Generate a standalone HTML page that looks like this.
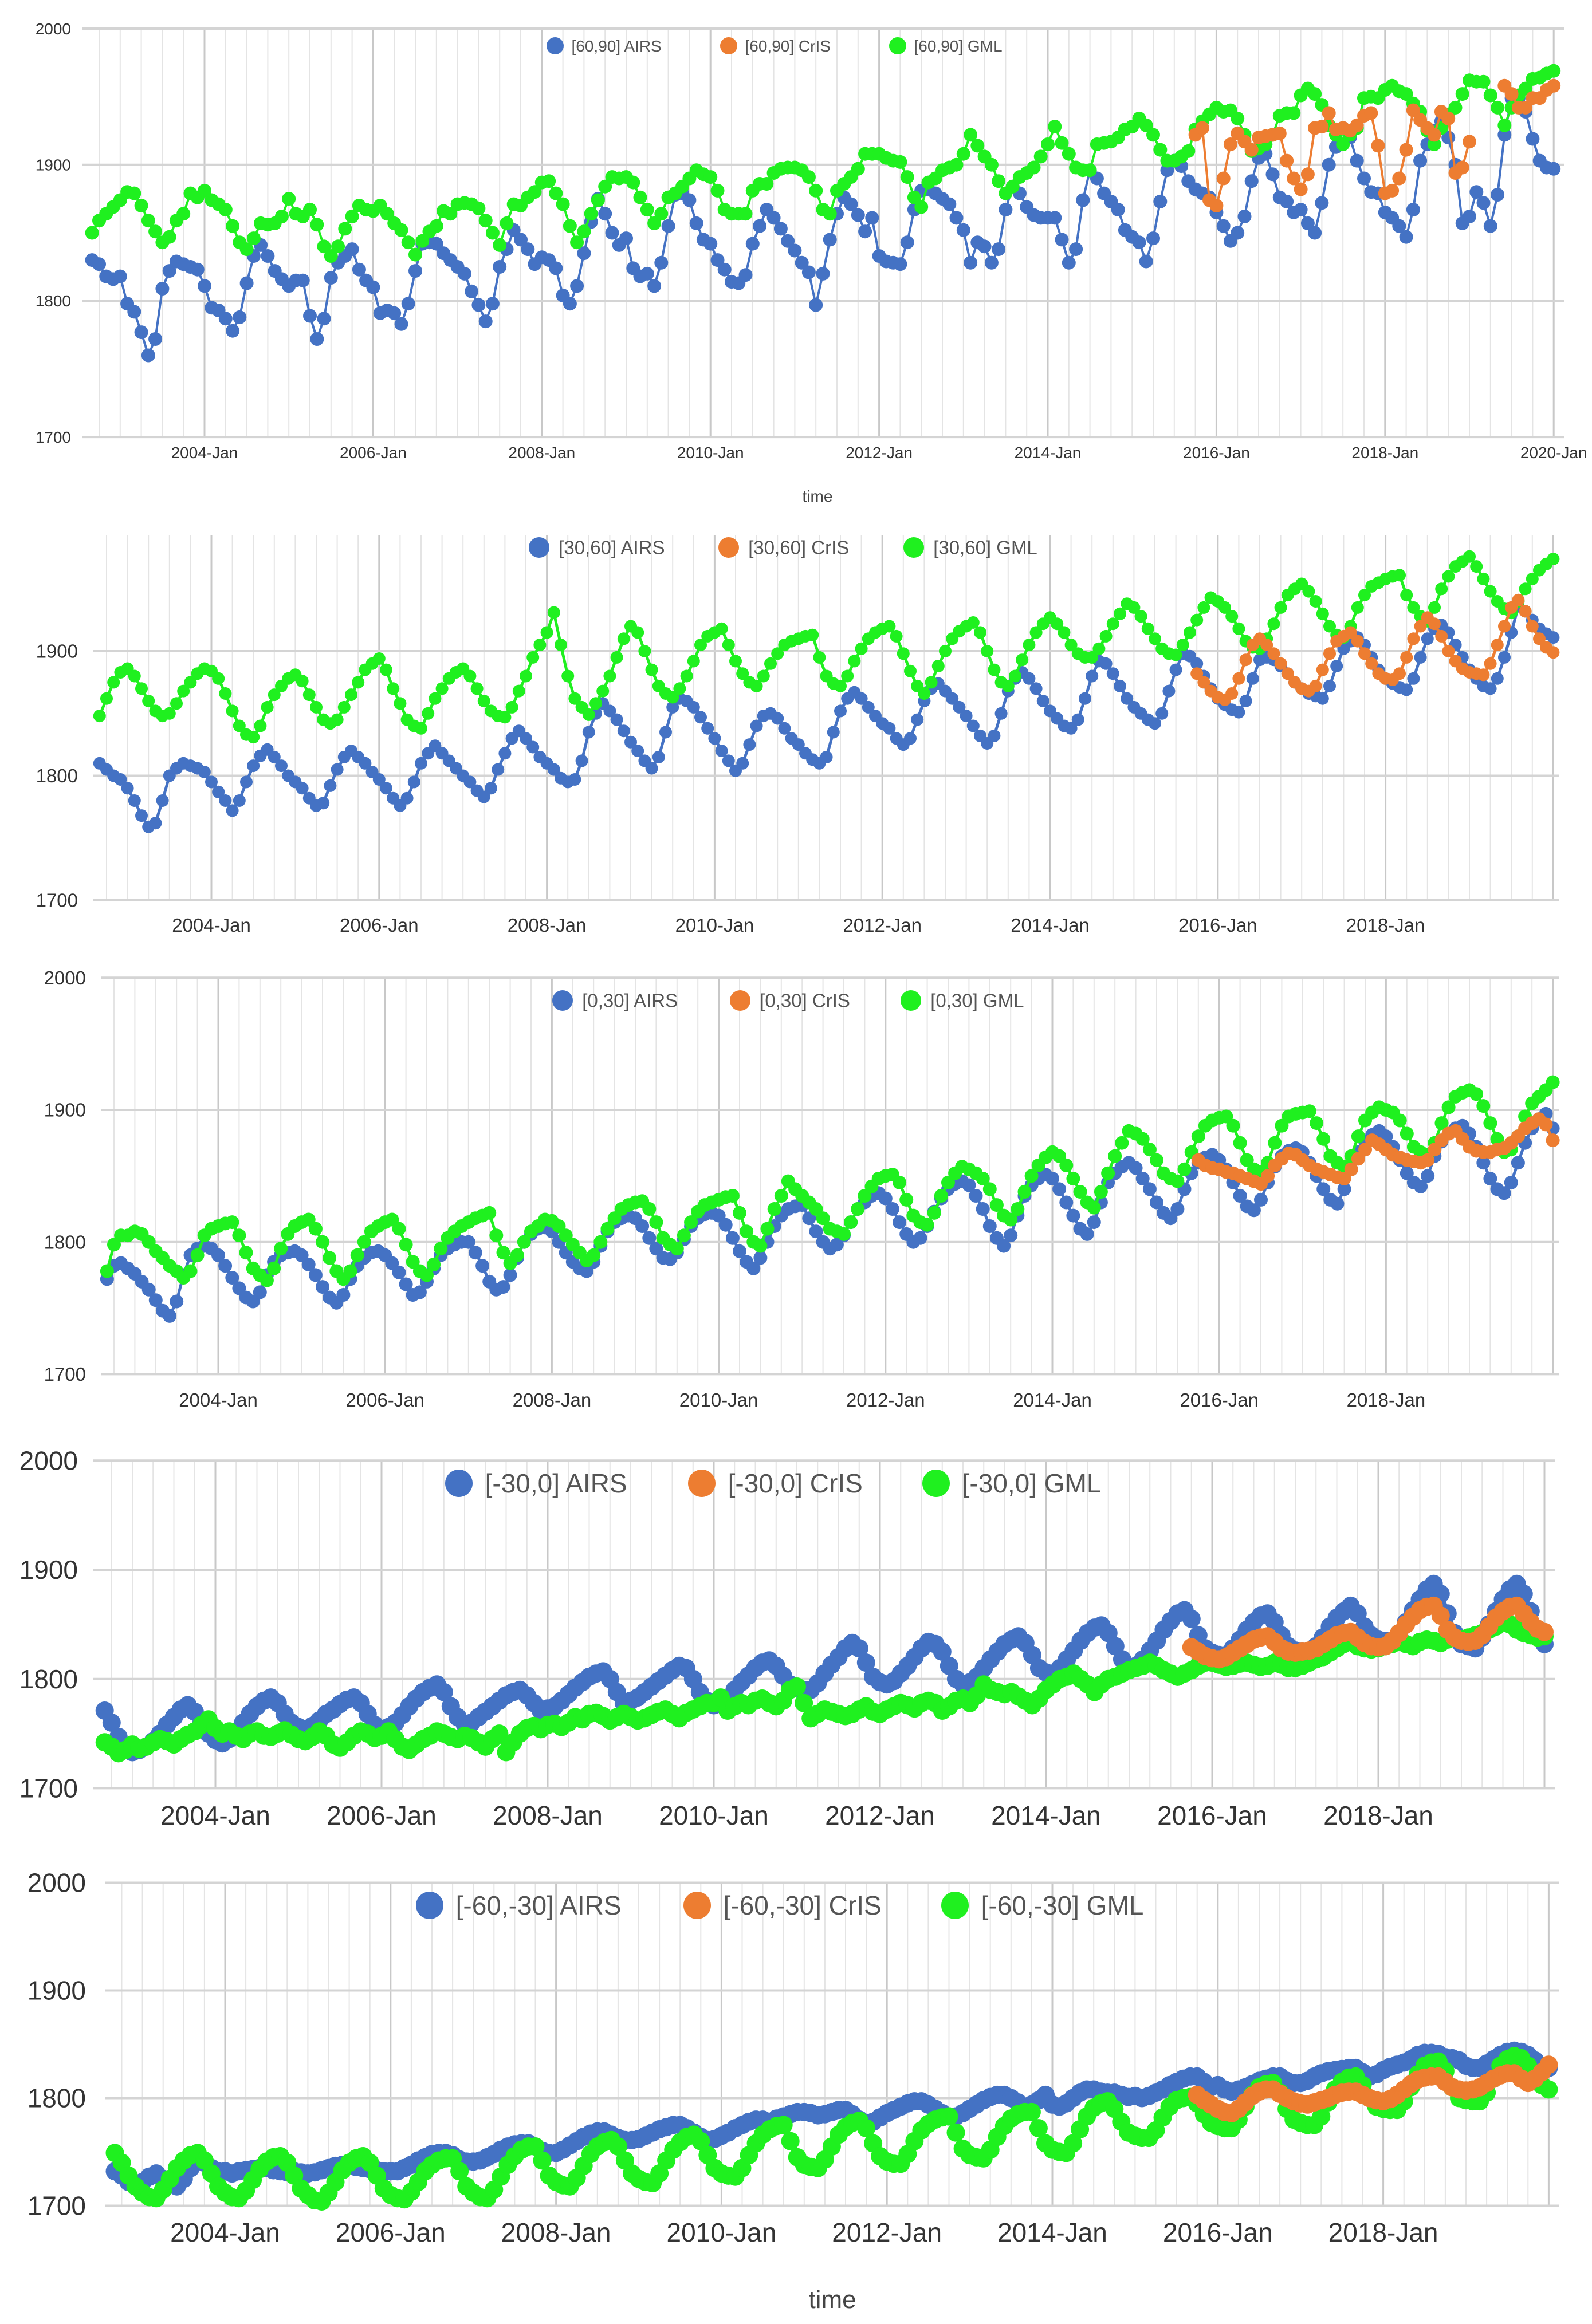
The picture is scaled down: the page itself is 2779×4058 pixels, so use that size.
<!DOCTYPE html>
<html><head><meta charset="utf-8"><title>CH4 AIRS / CrIS / GML comparison</title>
<style>
html,body{margin:0;padding:0;background:#fff;}
body{width:2779px;height:4058px;overflow:hidden;font-family:"Liberation Sans",sans-serif;}
svg{display:block;}
</style></head>
<body>
<svg id="chart" width="2779" height="4058" viewBox="0 0 2779 4058" xmlns="http://www.w3.org/2000/svg"></svg>
<script>
// ---------- DATA (monthly, first point = Sep 2002) ----------
const startYear = 2002 + 8/12;
const crisStartIndex = 157; // Oct 2015

const p1Airs = [1830,1827,1818,1816,1818,1798,1792,1777,1760,1772,1809,1822,1829,1827,1825,1823,
1811,1795,1793,1787,1778,1788,1813,1833,1841,1833,1822,1816,1811,1815,1815,1789,
1772,1787,1817,1828,1833,1838,1823,1815,1810,1791,1793,1791,1783,1798,1822,1842,
1843,1842,1835,1830,1825,1820,1807,1797,1785,1798,1825,1838,1852,1845,1838,1827,
1832,1830,1824,1804,1798,1811,1835,1858,1875,1864,1850,1841,1846,1824,1818,1820,
1811,1828,1855,1878,1879,1874,1857,1845,1842,1830,1823,1814,1813,1819,1842,1855,1867,
1861,1853,1844,1837,
1828,1821,1797,1820,1845,1864,1876,1871,1863,1851,
1861,1833,1829,1828,1827,1843,1867,1881,1882,1879,
1875,1871,1861,1852,1828,1843,1840,1828,1838,1867,
1884,1879,1869,1863,1861,1861,1861,1845,1828,1838,
1874,1896,1890,1879,1873,1867,1852,1847,1843,1829,
1846,1873,1896,1903,1899,1888,1882,1879,1876,1865,
1855,1844,1850,1862,1888,1905,1908,1893,1876,1873,
1865,1867,1857,1850,1872,1900,1913,1927,1920,1903,
1890,1880,1879,1865,1861,1855,1847,1867,1903,1915,
1925,1932,1920,1900,1857,1862,1880,1872,1855,1878,
1922,1949,1949,1939,1919,1903,1898,1897];
const p1Gml = [1850,1859,1864,1869,1874,1880,1879,1870,1859,1851,
1843,1847,1859,1864,1879,1876,1881,1874,1871,1867,
1855,1843,1838,1846,1857,1856,1857,1862,1875,1864,
1862,1867,1856,1840,1833,1840,1853,1862,1870,1867,
1866,1870,1864,1857,1852,1843,1834,1844,1851,1855,1866,
1864,1871,1872,1871,1868,1859,1850,1841,1857,1871,
1870,1876,1880,1887,1888,1879,1871,1855,1843,1851,
1864,1874,1884,1891,1890,1891,1887,1876,1867,1857,
1864,1876,1879,1884,1890,1896,1893,1891,1881,1867,
1864,1864,1864,1881,1886,1886,1894,1897,1898,1898,
1896,1891,1881,1867,1864,1881,1886,1891,1897,1908,1908,
1908,1905,1903,1902,1891,1876,1869,1887,1890,1896,1898,
1900,1908,1922,1914,1906,1900,1888,1879,1884,1891,1894,
1898,1906,1915,1928,1916,1908,1898,1896,1896,1915,1916,
1917,1920,1926,1928,1934,1929,1922,1911,1903,1903,1906,
1910,1926,1932,1937,1942,1939,1940,1934,1922,1910,1912,
1915,1922,1936,1938,1938,1951,1956,1952,1944,1929,1922,
1915,1922,1927,1949,1950,1949,1955,1958,1954,1952,1945,
1939,1925,1915,1927,1937,1942,1952,1962,1961,1961,
1951,1942,1929,1942,1951,1956,1963,1964,1967,1969];
const p1Cris = [1922,1927,1874,1870,1890,1915,1923,1917,1911,1920,1921,
1922,1923,1903,1890,1882,1893,1927,1928,1938,1926,1927,
1925,1929,1936,1938,1914,1879,1881,1890,1911,1940,1933,
1927,1922,1939,1934,1894,1898,1917,null,null,null,null,
1958,1952,1942,1942,1949,1949,1955,1958];

const p2Airs = [1810,1805,1800,1797,
1790,1780,1768,1759,1762,1780,1800,1806,1810,1808,1806,1803,
1795,1787,1780,1772,1780,1795,1808,1816,1821,1815,1808,1800,
1795,1790,1782,1776,1778,1792,1805,1815,1820,1815,1810,1803,
1797,1790,1782,1776,1782,1795,1810,1818,1824,1818,1812,1806,
1800,1795,1788,1783,1790,1805,1818,1830,1836,1830,1823,1815,
1810,1805,1798,1795,1797,1812,1835,1850,1858,1852,1845,1836,
1827,1820,1812,1806,1815,1835,1855,1862,1860,1855,1847,1838,
1830,1820,1812,1804,1810,1825,1840,1848,1850,1846,1838,1830,
1825,1818,1813,1810,1815,1835,1852,1862,1867,1862,1855,1848,
1842,1838,1830,1825,1830,1845,1860,1870,1874,1868,1862,1855,
1848,1840,1832,1826,1832,1850,1868,1878,1883,1878,1870,1860,
1852,1846,1840,1838,1845,1862,1880,1892,1890,1882,1872,1862,
1855,1850,1845,1842,1850,1868,1885,1898,1896,1890,1880,1870,
1862,1857,1853,1851,1860,1878,1893,1895,1893,1888,1882,1875,
1870,1866,1864,1862,1872,1888,1902,1908,1911,1905,1895,1885,
1878,1874,1871,1869,1878,1895,1910,1918,1921,1915,1905,1895,
1885,1878,1872,1870,1878,1895,1915,1936,1932,1925,1918,1914,
1911];
const p2Gml = [1848,1862,1875,1883,
1886,1880,1870,1860,1852,1848,1850,1858,1868,1875,1882,1886,
1884,1878,1866,1852,1840,1833,1831,1840,1855,1865,1872,1878,
1881,1876,1865,1855,1845,1842,1845,1855,1865,1875,1885,1890,
1894,1885,1870,1858,1845,1840,1838,1850,1862,1870,1878,1883,
1886,1880,1870,1860,1852,1848,1847,1855,1868,1880,1895,1905,
1915,1931,1905,1880,1862,1855,1849,1858,1868,1880,1895,1910,
1920,1915,1900,1885,1872,1866,1863,1870,1880,1892,1905,1912,
1915,1918,1905,1892,1882,1875,1872,1880,1890,1898,1905,1908,
1910,1912,1913,1895,1880,1874,1872,1880,1892,1902,1910,1915,
1918,1920,1912,1898,1884,1872,1866,1875,1888,1900,1910,1916,
1920,1923,1915,1900,1885,1875,1872,1880,1893,1905,1915,1922,
1927,1922,1915,1905,1898,1895,1895,1902,1912,1922,1930,1938,
1935,1928,1918,1910,1902,1898,1897,1905,1915,1925,1935,1943,
1940,1935,1928,1918,1908,1903,1902,1910,1922,1935,1945,1950,
1954,1948,1940,1930,1920,1913,1911,1920,1935,1945,1952,1955,
1958,1960,1961,1945,1935,1928,1924,1935,1950,1960,1968,1972,
1976,1968,1958,1948,1940,1934,1931,1940,1950,1958,1965,1970,
1974];
const p2Cris = [1882,1875,1868,
1863,1861,1866,1878,1893,1905,1910,1905,1898,1890,1882,1875,
1870,1868,1872,1885,1898,1908,1912,1915,1908,1898,1890,1882,
1878,1877,1882,1895,1910,1920,1927,1922,1912,1900,1892,1886,
1883,1882,1881,1890,1905,1920,1935,1941,1932,1920,1910,1903,
1899];

const p3Airs = [1772,1782,1784,1780,
1776,1770,1764,1756,1748,1744,1755,1775,1790,1795,1797,1795,
1790,1782,1773,1765,1758,1755,1762,1775,1785,1790,1792,1793,
1790,1783,1775,1766,1758,1754,1760,1772,1782,1788,1792,1793,
1790,1784,1777,1768,1760,1762,1770,1780,1790,1795,1798,1800,
1800,1792,1782,1770,1764,1766,1775,1788,1800,1806,1810,1811,
1808,1800,1792,1785,1780,1778,1785,1797,1808,1815,1818,1820,
1818,1812,1803,1795,1788,1787,1792,1802,1812,1818,1821,1822,
1820,1813,1803,1793,1785,1780,1788,1800,1812,1820,1825,1827,
1828,1818,1808,1800,1795,1798,1805,1815,1825,1830,1835,1837,
1833,1825,1815,1806,1800,1803,1812,1823,1833,1840,1844,1846,
1843,1835,1825,1812,1803,1797,1805,1820,1835,1843,1848,1851,
1848,1840,1830,1820,1810,1806,1815,1830,1845,1852,1857,1860,
1856,1848,1840,1830,1822,1818,1825,1840,1852,1860,1864,1866,
1862,1855,1845,1835,1827,1824,1832,1845,1857,1865,1869,1871,
1868,1860,1850,1840,1832,1829,1840,1855,1868,1876,1881,1884,
1880,1872,1862,1852,1845,1842,1850,1865,1876,1882,1886,1888,
1882,1872,1860,1848,1840,1837,1845,1860,1875,1886,1893,1897,
1886];
const p3Gml = [1778,1798,1805,1805,
1808,1806,1800,1793,1788,1782,1778,1773,1778,1790,1805,1810,
1812,1814,1815,1805,1792,1780,1775,1771,1780,1795,1806,1812,
1815,1817,1810,1800,1788,1778,1772,1778,1790,1800,1808,1812,
1815,1817,1810,1798,1785,1778,1775,1783,1795,1803,1808,1812,
1815,1818,1820,1822,1805,1792,1784,1790,1800,1808,1812,1817,
1816,1812,1805,1798,1792,1786,1790,1800,1810,1818,1825,1828,
1830,1831,1825,1815,1803,1798,1795,1805,1815,1823,1828,1830,
1832,1834,1835,1822,1808,1800,1797,1810,1825,1835,1846,1840,
1835,1830,1825,1818,1810,1808,1806,1815,1825,1835,1842,1848,
1850,1851,1845,1832,1820,1815,1813,1822,1835,1845,1852,1857,
1855,1852,1848,1840,1828,1820,1817,1825,1838,1850,1858,1864,
1868,1865,1858,1848,1838,1830,1826,1838,1852,1865,1875,1884,
1882,1878,1870,1862,1852,1848,1846,1855,1868,1880,1888,1892,
1894,1895,1888,1875,1862,1855,1853,1860,1875,1888,1895,1897,
1898,1899,1890,1878,1865,1860,1857,1865,1880,1892,1898,1902,
1900,1898,1892,1882,1872,1868,1866,1875,1890,1902,1910,1913,
1915,1912,1903,1890,1878,1868,1870,1880,1895,1905,1910,1915,
1921];
const p3Cris = [1862,1858,1856,
1855,1853,1852,1850,1848,1846,1844,1850,1858,1863,1867,1866,
1862,1858,1855,1853,1851,1849,1848,1855,1863,1870,1877,1874,
1870,1866,1864,1862,1861,1860,1862,1870,1877,1882,1884,1878,
1872,1869,1868,1868,1870,1871,1875,1880,1886,1890,1893,1889,
1877];

const p4Airs = [1771,1760,1747,1738,
1733,1735,1738,1743,1750,1758,1765,1772,1776,1770,1760,1750,
1744,1741,1745,1752,1760,1768,1775,1780,1783,1778,1768,1760,
1756,1754,1757,1762,1768,1772,1777,1781,1783,1778,1768,1758,
1754,1756,1760,1767,1775,1782,1788,1792,1795,1788,1775,1765,
1759,1760,1765,1770,1775,1780,1785,1788,1790,1785,1778,1771,
1773,1775,1780,1786,1792,1797,1802,1805,1807,1800,1788,1778,
1780,1783,1788,1793,1798,1803,1808,1812,1810,1800,1788,1780,
1776,1778,1782,1790,1797,1803,1810,1815,1817,1812,1803,1795,
1792,1790,1790,1796,1805,1813,1820,1828,1833,1828,1815,1802,
1797,1795,1798,1805,1812,1820,1828,1834,1832,1825,1812,1800,
1795,1797,1802,1810,1818,1825,1832,1836,1839,1833,1822,1810,
1806,1805,1810,1818,1826,1835,1842,1847,1849,1842,1830,1818,
1810,1812,1818,1826,1835,1845,1853,1860,1863,1855,1840,1828,
1824,1822,1822,1828,1836,1845,1852,1858,1860,1852,1840,1830,
1826,1825,1824,1830,1838,1848,1856,1862,1867,1860,1848,1840,
1836,1835,1834,1842,1852,1863,1873,1882,1887,1878,1860,1842,
1832,1830,1828,1838,1850,1862,1873,1882,1887,1878,1862,1845,
1832];
const p4Gml = [1742,1738,1732,1735,
1740,1736,1738,1742,1745,1743,1740,1745,1749,1752,1758,1763,
1755,1750,1752,1748,1745,1750,1752,1748,1747,1750,1753,1749,
1745,1743,1747,1752,1748,1740,1737,1742,1748,1752,1750,1746,
1748,1752,1745,1738,1735,1740,1745,1748,1752,1750,1747,1745,
1748,1746,1742,1738,1745,1750,1733,1742,1750,1755,1757,1754,
1758,1759,1756,1760,1765,1763,1768,1769,1766,1762,1765,1768,
1765,1762,1764,1767,1770,1772,1768,1764,1769,1772,1775,1778,
1778,1783,1771,1775,1778,1776,1780,1782,1778,1775,1780,1790,
1793,1778,1764,1768,1772,1770,1768,1766,1768,1772,1775,1770,
1768,1772,1775,1778,1776,1773,1778,1780,1778,1771,1775,1780,
1782,1778,1785,1795,1790,1788,1786,1788,1784,1780,1776,1782,
1790,1795,1800,1802,1805,1800,1795,1788,1795,1800,1802,1805,
1808,1810,1812,1815,1812,1808,1805,1802,1805,1808,1812,1815,
1815,1813,1811,1812,1814,1815,1813,1811,1812,1815,1813,1810,
1810,1812,1815,1818,1820,1824,1828,1832,1834,1830,1828,1827,
1828,1830,1832,1834,1832,1830,1834,1836,1835,1833,1836,1838,
1836,1838,1840,1842,1845,1848,1853,1850,1845,1842,1840,1838,
1839];
const p4Cris = [1829,1825,1821,
1819,1818,1820,1824,1828,1832,1836,1838,1839,1834,1828,1825,
1824,1825,1826,1828,1832,1836,1840,1842,1843,1838,1833,1830,
1829,1830,1835,1842,1850,1857,1863,1866,1867,1858,1845,1838,
1835,1834,1835,1840,1848,1856,1862,1866,1867,1860,1852,1846,
1843];

const p5Airs = [1732,1728,1722,1718,
1722,1727,1730,1725,1720,1718,1725,1735,1744,1740,1735,1732,
1732,1730,1732,1733,1734,1735,1735,1733,1732,1731,1732,1731,
1730,1731,1733,1735,1737,1738,1738,1736,1735,1734,1733,1732,
1732,1732,1735,1738,1742,1745,1748,1749,1749,1747,1743,1741,
1741,1742,1745,1748,1752,1755,1757,1758,1758,1755,1751,1749,
1749,1752,1756,1760,1764,1767,1769,1769,1766,1763,1761,1761,
1762,1765,1768,1771,1773,1775,1775,1772,1768,1764,1761,1762,
1765,1768,1772,1775,1778,1780,1780,1778,1781,1783,1785,1787,
1787,1786,1784,1785,1787,1789,1789,1785,1780,1777,1778,1782,
1786,1789,1792,1795,1797,1797,1794,1790,1786,1783,1783,1786,
1790,1794,1798,1801,1803,1803,1800,1796,1792,1794,1798,1803,
1794,1792,1795,1800,1805,1808,1808,1806,1805,1805,1803,1801,
1802,1800,1802,1805,1808,1812,1815,1818,1820,1820,1815,1810,
1812,1808,1806,1808,1810,1813,1816,1818,1820,1820,1816,1814,
1814,1816,1820,1823,1825,1826,1827,1828,1828,1824,1820,1822,
1826,1829,1831,1833,1836,1840,1842,1842,1841,1838,1837,1835,
1830,1828,1828,1832,1836,1840,1843,1844,1843,1840,1835,1830,
1828];
const p5Gml = [1749,1740,1728,1718,
1712,1708,1707,1715,1725,1735,1742,1747,1749,1742,1730,1718,
1712,1708,1707,1714,1724,1734,1741,1745,1746,1740,1728,1716,
1710,1705,1704,1712,1722,1733,1740,1744,1746,1740,1728,1716,
1710,1707,1706,1713,1722,1732,1738,1742,1744,1744,1732,1718,
1712,1708,1707,1715,1727,1738,1746,1752,1755,1755,1742,1728,
1722,1719,1718,1726,1737,1748,1755,1759,1761,1755,1742,1730,
1725,1722,1721,1730,1742,1752,1759,1764,1766,1760,1747,1735,
1730,1728,1727,1735,1747,1758,1766,1771,1774,1775,1760,1745,
1738,1736,1735,1743,1755,1766,1773,1777,1779,1772,1758,1746,
1741,1739,1739,1748,1760,1770,1776,1780,1782,1783,1768,1753,
1747,1745,1744,1752,1764,1774,1781,1785,1787,1787,1772,1758,
1752,1750,1749,1758,1771,1783,1791,1795,1797,1790,1778,1768,
1765,1763,1763,1770,1782,1792,1798,1800,1801,1795,1785,1777,
1774,1772,1772,1780,1792,1803,1810,1813,1814,1805,1790,1780,
1777,1775,1775,1783,1796,1808,1815,1819,1820,1812,1800,1792,
1790,1789,1789,1797,1810,1822,1830,1833,1834,1825,1810,1800,
1798,1797,1797,1805,1818,1830,1836,1839,1837,1830,1820,1812,
1808];
const p5Cris = [1803,1798,1794,
1790,1787,1786,1790,1796,1802,1806,1808,1808,1804,1800,1797,
1795,1794,1796,1798,1800,1803,1805,1806,1806,1803,1800,1798,
1797,1799,1803,1808,1813,1817,1819,1820,1820,1815,1810,1808,
1807,1808,1810,1814,1818,1821,1823,1823,1818,1814,1818,1824,
1831];

const xTicksLong = [2004,2006,2008,2010,2012,2014,2016,2018,2020];
const xTicksShort = [2004,2006,2008,2010,2012,2014,2016,2018];
const yTicksFull = [1700,1800,1900,2000];
const yTicksNoTop = [1700,1800,1900];
const p1Legend = ['[60,90] AIRS','[60,90] CrIS','[60,90] GML'];
const p2Legend = ['[30,60] AIRS','[30,60] CrIS','[30,60] GML'];
const p3Legend = ['[0,30] AIRS','[0,30] CrIS','[0,30] GML'];
const p4Legend = ['[-30,0] AIRS','[-30,0] CrIS','[-30,0] GML'];
const p5Legend = ['[-60,-30] AIRS','[-60,-30] CrIS','[-60,-30] GML'];

// ---------- LAYOUT ----------
const COLORS = {airs:'#4472c4', cris:'#ed7d31', gml:'#1ff01f'};
const panels = [
 {id:'p1', airs:p1Airs, cris:p1Cris, gml:p1Gml, legend:p1Legend, xTicks:xTicksLong, yTicks:yTicksFull,
  x2004:357, ppy:147.2, yRef:2000, yRefPx:50, ppu:2.377, left:143, right:2730, top:50, bottom:763,
  font:28, tickY:800, yLabelX:124, r:12, lw:4, legY:80, legX:[969,1272,1567], legR:15, legFont:28, title:{x:1427,y:876,size:28}},
 {id:'p2', airs:p2Airs, cris:p2Cris, gml:p2Gml, legend:p2Legend, xTicks:xTicksShort, yTicks:yTicksNoTop,
  x2004:369, ppy:146.4, yRef:1900, yRefPx:1137, ppu:2.175, left:163, right:2721, top:935, bottom:1572,
  font:33, tickY:1627, yLabelX:136, r:11, lw:5, legY:956, legX:[941,1272,1595], legR:18, legFont:33},
 {id:'p3', airs:p3Airs, cris:p3Cris, gml:p3Gml, legend:p3Legend, xTicks:xTicksShort, yTicks:yTicksFull,
  x2004:381, ppy:145.6, yRef:1900, yRefPx:1938, ppu:2.307, left:177, right:2721, top:1708, bottom:2400,
  font:33, tickY:2456, yLabelX:150, r:12, lw:5, legY:1747, legX:[982,1292,1590], legR:18, legFont:33},
 {id:'p4', airs:p4Airs, cris:p4Cris, gml:p4Gml, legend:p4Legend, xTicks:xTicksShort, yTicks:yTicksFull,
  x2004:376, ppy:145, yRef:1900, yRefPx:2741, ppu:1.907, left:163, right:2715, top:2550, bottom:3122,
  font:46, tickY:3186, yLabelX:136, r:16, lw:9, legY:2590, legX:[801,1225,1634], legR:24, legFont:46},
 {id:'p5', airs:p5Airs, cris:p5Cris, gml:p5Gml, legend:p5Legend, xTicks:xTicksShort, yTicks:yTicksFull,
  x2004:393, ppy:144.4, yRef:1900, yRefPx:3475.5, ppu:1.88, left:183, right:2721, top:3287, bottom:3851,
  font:46, tickY:3914, yLabelX:150, r:16, lw:9, legY:3327, legX:[750,1217,1667], legR:24, legFont:46, title:{x:1453,y:4030,size:44}}
];

const NS = 'http://www.w3.org/2000/svg';
const svg = document.getElementById('chart');
function mk(tag, attrs, parent){
  const e = document.createElementNS(NS, tag);
  for (const k in attrs) e.setAttribute(k, attrs[k]);
  (parent||svg).appendChild(e);
  return e;
}

panels.forEach(function(p){
  const xOf = function(year){ return p.x2004 + (year - 2004) * p.ppy; };
  const xIdx = function(i){ return xOf(startYear + i / 12); };
  const yOf = function(v){ return p.yRefPx + (p.yRef - v) * p.ppu; };

  const g = mk('g', {});
  
  

  const gridV = mk('g', {}, g);
  
  
  for (let q = 0; q < 200; q++) {
    const yr = 2002 + q * 0.25;
    const x = xOf(yr);
    if (x < p.left + 4 || x > p.right + 2) continue;
    const major = Math.abs(yr - Math.round(yr)) < 1e-6 && Math.round(yr) % 2 === 0;
    mk('line', {x1:x, x2:x, y1:p.top, y2:p.bottom, stroke: major ? '#c8c8c8' : '#e4e4e4', 'stroke-width': major ? 3 : 2}, gridV);
  }
  p.yTicks.forEach(function(v){
    const y = yOf(v);
    const ln = mk('line', {x1:p.left, x2:p.right, y1:y, y2:y, stroke:'#d4d4d4', 'stroke-width':4}, g);
    
    
    const t = mk('text', {x:p.yLabelX, y:y + p.font*0.35, 'text-anchor':'end', 'font-size':p.font, fill:'#333'}, g);
    t.textContent = v;
    
    
  });
  p.xTicks.forEach(function(yr){
    const t = mk('text', {x:xOf(yr), y:p.tickY, 'text-anchor':'middle', 'font-size':p.font, fill:'#333'}, g);
    t.textContent = yr + '-Jan';
    
    
  });

  function drawSeries(vals, offset, color, key){
    const sg = mk('g', {}, g);
    
    
    let d = '';
    let pen = false;
    vals.forEach(function(v, k){
      if (v === null) { pen = false; return; }
      const x = xIdx(offset + k), y = yOf(v);
      d += (pen ? 'L' : 'M') + x.toFixed(1) + ' ' + y.toFixed(1) + ' ';
      pen = true;
    });
    const path = mk('path', {d:d, fill:'none', stroke:color, 'stroke-width':p.lw, 'stroke-linejoin':'round'}, sg);
    
    
    vals.forEach(function(v, k){
      if (v === null) return;
      const c = mk('circle', {cx:xIdx(offset + k).toFixed(1), cy:yOf(v).toFixed(1), r:p.r, fill:color}, sg);
      
      
    });
  }
  drawSeries(p.airs, 0, COLORS.airs, 'airs');
  drawSeries(p.gml, 0, COLORS.gml, 'gml');
  drawSeries(p.cris, crisStartIndex, COLORS.cris, 'cris');

  const lg = mk('g', {}, g);
  
  
  const cols = [COLORS.airs, COLORS.cris, COLORS.gml];
  p.legend.forEach(function(label, k){
    const eg = mk('g', {}, lg);
    
    
    mk('circle', {cx:p.legX[k], cy:p.legY, r:p.legR, fill:cols[k]}, eg);
    const t = mk('text', {x:p.legX[k] + p.legR * 1.9, y:p.legY + p.legFont*0.35, 'font-size':p.legFont, fill:'#555'}, eg);
    t.textContent = label;
  });

  if (p.title) {
    const t = mk('text', {x:p.title.x, y:p.title.y, 'text-anchor':'middle', 'font-size':p.title.size, fill:'#444'}, g);
    t.textContent = 'time';
    
    
  }
});
</script>
</body></html>
